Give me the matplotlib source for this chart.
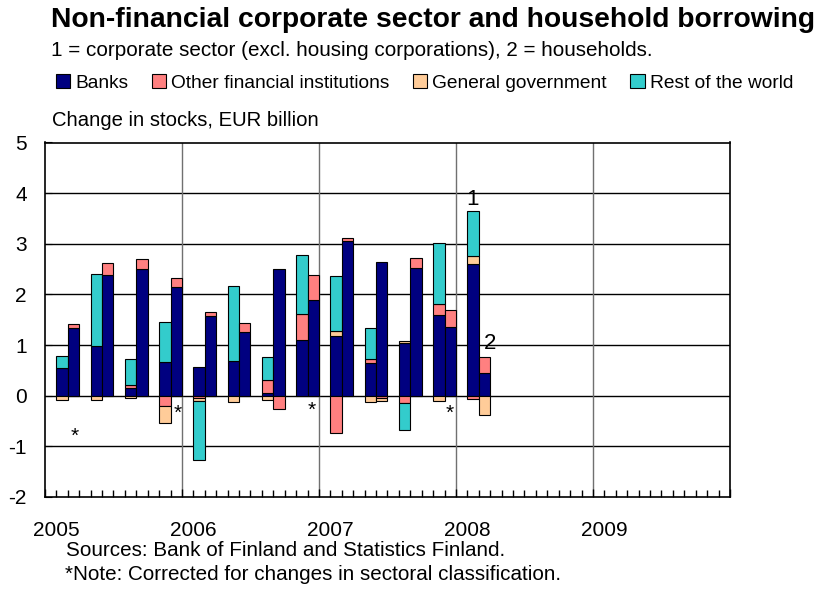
import matplotlib
matplotlib.use("Agg")
import matplotlib.pyplot as plt
import matplotlib.transforms as mtransforms
from matplotlib.patches import Patch
import numpy as np

plt.rcParams['font.family'] = ['Liberation Sans', 'DejaVu Sans']
plt.rcParams['axes.unicode_minus'] = False

# Quarterly data 2005Q1 - 2008Q1, EUR billion
quarters = ["2005Q1", "2005Q2", "2005Q3", "2005Q4",
            "2006Q1", "2006Q2", "2006Q3", "2006Q4",
            "2007Q1", "2007Q2", "2007Q3", "2007Q4", "2008Q1"]

# 1 = corporate sector
corp_banks = [0.55, 0.99, 0.145, 0.66, 0.57, 0.68, 0.05, 1.10, 1.17, 0.64, 1.04, 1.60, 2.60]
corp_ofi = [0.00, 0.00, 0.065, -0.20, -0.04, 0.00, 0.27, 0.52, -0.74, 0.08, -0.15, 0.21, -0.07]
corp_gg = [-0.08, -0.08, -0.04, -0.33, -0.06, -0.13, -0.09, 0.00, 0.10, -0.13, 0.04, -0.11, 0.16]
corp_row = [0.23, 1.42, 0.51, 0.79, -1.16, 1.48, 0.44, 1.16, 1.09, 0.62, -0.53, 1.21, 0.88]

# 2 = households
hh_banks = [1.33, 2.39, 2.51, 2.14, 1.58, 1.26, 2.51, 1.89, 3.06, 2.64, 2.53, 1.36, 0.44]
hh_ofi = [0.08, 0.24, 0.18, 0.18, 0.07, 0.17, -0.26, 0.50, 0.05, -0.04, 0.19, 0.33, 0.33]
hh_gg = [0.00, 0.00, 0.00, 0.00, 0.00, 0.00, 0.00, 0.00, 0.00, -0.07, 0.00, 0.00, -0.39]
hh_row = [0.00, 0.00, 0.00, 0.00, 0.00, 0.00, 0.00, 0.00, 0.00, 0.00, 0.00, 0.00, 0.00]

series_names = ["Banks", "Other financial institutions", "General government", "Rest of the world"]
series_colors = ["#000080", "#FF8080", "#FFCC99", "#33CCCC"]

# Asterisk notes (x in years, y in EUR bn) and series labels
star_x = [2005.22, 2005.97, 2006.95, 2007.955]
star_y = [-0.80, -0.34, -0.28, -0.34]
label_text = ["1", "2"]
label_x = [2008.124, 2008.245]
label_y = [3.87, 1.03]

years = [2005, 2006, 2007, 2008, 2009]


def stacked(ax, x, layers, width):
    """Stack positive values upwards and negative ones downwards."""
    pos = np.zeros(len(x))
    neg = np.zeros(len(x))
    for vals, col in zip(layers, series_colors):
        v = np.asarray(vals, dtype=float)
        p = np.where(v > 0, v, 0)
        n = np.where(v < 0, v, 0)
        mp = v > 0
        mn = v < 0
        ax.bar(x[mp], p[mp], width, bottom=pos[mp], color=col,
               edgecolor='black', linewidth=0.8, zorder=3)
        ax.bar(x[mn], n[mn], width, bottom=neg[mn], color=col,
               edgecolor='black', linewidth=0.8, zorder=3)
        pos += p
        neg += n


def main():
    fig = plt.figure(figsize=(8.29, 5.92), dpi=100)
    ax = fig.add_axes([45 / 829, 1 - 497 / 592, 685 / 829, 354.5 / 592])

    q = np.arange(len(quarters))
    x_corp = 2005 + (3 * q + 1.5) / 12
    x_hh = 2005 + (3 * q + 2.5) / 12
    w = 1 / 12

    stacked(ax, x_corp, [corp_banks, corp_ofi, corp_gg, corp_row], w)
    stacked(ax, x_hh, [hh_banks, hh_ofi, hh_gg, hh_row], w)

    ax.set_xlim(2005, 2010)
    ax.set_ylim(-2, 5)
    ax.set_yticks(range(-2, 6))
    ax.tick_params(axis='y', labelsize=15, direction='in', length=5, pad=13)

    # grid: black horizontal lines, grey year separators
    for yv in range(-1, 5):
        ax.axhline(yv, color='black', linewidth=1.0, zorder=1)
    for yr in years[1:]:
        ax.axvline(yr, color='#707070', linewidth=1.0, zorder=1)

    ax.set_xticks(years + [2010])
    ax.set_xticklabels([])
    ax.set_xticks(np.arange(2005, 2010, 1 / 12), minor=True)
    ax.tick_params(axis='x', which='major', direction='in', length=6, width=1)
    ax.tick_params(axis='x', which='minor', direction='in', length=5, width=1)
    for s in ax.spines.values():
        s.set_linewidth(1.2)

    trans = mtransforms.blended_transform_factory(ax.transData, fig.transFigure)
    for yr in years:
        ax.text(yr + 0.084, 1 - 530 / 592, str(yr), transform=trans,
                ha='center', va='center', fontsize=15)

    for sx, sy in zip(star_x, star_y):
        ax.text(sx, sy, "*", ha='center', va='center', fontsize=15, zorder=4)
    for t, lx, ly in zip(label_text, label_x, label_y):
        ax.text(lx, ly, t, ha='center', va='center', fontsize=16, zorder=4)

    # titles and legend
    fig.text(51 / 829, 1 - 20 / 592, "Non-financial corporate sector and household borrowing",
             fontsize=20.3, fontweight='bold', ha='left', va='center')
    fig.text(51 / 829, 1 - 51 / 592,
             "1 = corporate sector (excl. housing corporations), 2 = households.",
             fontsize=14.9, ha='left', va='center')
    fig.text(52 / 829, 1 - 121 / 592, "Change in stocks, EUR billion",
             fontsize=14.6, ha='left', va='center')

    handles = [Patch(facecolor=c, edgecolor='black', linewidth=0.8, label=n)
               for n, c in zip(series_names, series_colors)]
    fig.legend(handles=handles, loc='center left', bbox_to_anchor=(56 / 829, 1 - 83 / 592),
               ncol=4, frameon=False, fontsize=13.8, handlelength=0.75, handleheight=0.75,
               handletextpad=0.26, columnspacing=1.22, borderaxespad=0, borderpad=0)

    fig.text(66 / 829, 1 - 551 / 592, "Sources: Bank of Finland and Statistics Finland.",
             fontsize=14.9, ha='left', va='center')
    fig.text(65 / 829, 1 - 575 / 592, "*Note: Corrected for changes in sectoral classification.",
             fontsize=14.9, ha='left', va='center')

    fig.savefig("out.png", dpi=100)
    plt.close(fig)


if __name__ == "__main__":
    main()
